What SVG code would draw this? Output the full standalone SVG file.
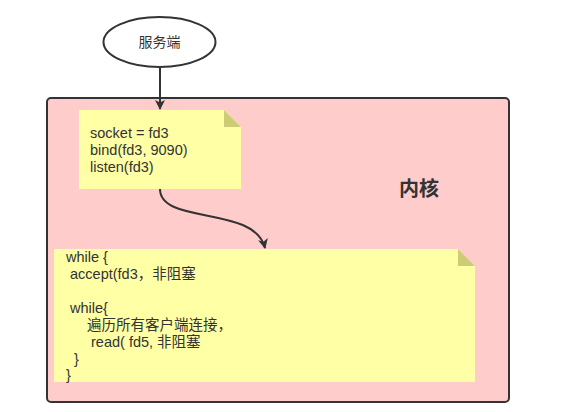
<svg xmlns="http://www.w3.org/2000/svg" width="573" height="412" viewBox="0 0 573 412">
<defs>
<style>
.t{font-family:"Liberation Sans","Noto Sans CJK SC",sans-serif;font-size:14.5px;fill:#333}
.note{fill:#FFFFA5}
.fold{fill:#CCCC77}
.conn{fill:none;stroke:#333;stroke-width:2}
</style>
<marker id="ah" markerWidth="10" markerHeight="10" refX="9" refY="5" orient="auto" markerUnits="userSpaceOnUse">
<path d="M0,0 L10,5 L0,10 L2.5,5 Z" fill="#333"/>
</marker>
</defs>
<rect width="573" height="412" fill="#fff"/>
<g id="kernel">
<rect x="47" y="98" width="462" height="304" rx="4" fill="#FFCCCC" stroke="#333" stroke-width="2"/>
<text x="399" y="196" style="font-family:'Noto Sans CJK SC',sans-serif;font-size:20px;font-weight:bold;fill:#333">内核</text>
</g>
<g id="server">
<ellipse cx="159.5" cy="42" rx="56" ry="25" fill="#fff" stroke="#333" stroke-width="2"/>
<text x="159.5" y="47" text-anchor="middle" class="t" style="font-size:14px">服务端</text>
</g>
<g id="note1">
<path class="note" d="M79,110 H224 L241,127 V189 H79 Z"/>
<path class="fold" d="M224,110 L241,127 H224 Z"/>
<text class="t" x="90" y="138">socket = fd3</text>
<text class="t" x="90" y="155">bind(fd3, 9090)</text>
<text class="t" x="90" y="172">listen(fd3)</text>
</g>
<g id="note2">
<path class="note" d="M54,249 H458 L475,266 V382 H54 Z"/>
<path class="fold" d="M458,249 L475,266 H458 Z"/>
<text class="t" x="66" y="262">while {</text>
<text class="t" x="70" y="279">accept(fd3，非阻塞</text>
<text class="t" x="70" y="313">while{</text>
<text class="t" x="87" y="330">遍历所有客户端连接，</text>
<text class="t" x="91" y="347">read( fd5, 非阻塞</text>
<text class="t" x="74" y="364">}</text>
<text class="t" x="66" y="380">}</text>
</g>
<g id="connectors">
<path class="conn" d="M160,67 V109" marker-end="url(#ah)"/>
<path class="conn" d="M160,189 C160,225 255,205 265,248" marker-end="url(#ah)"/>
</g>
</svg>
